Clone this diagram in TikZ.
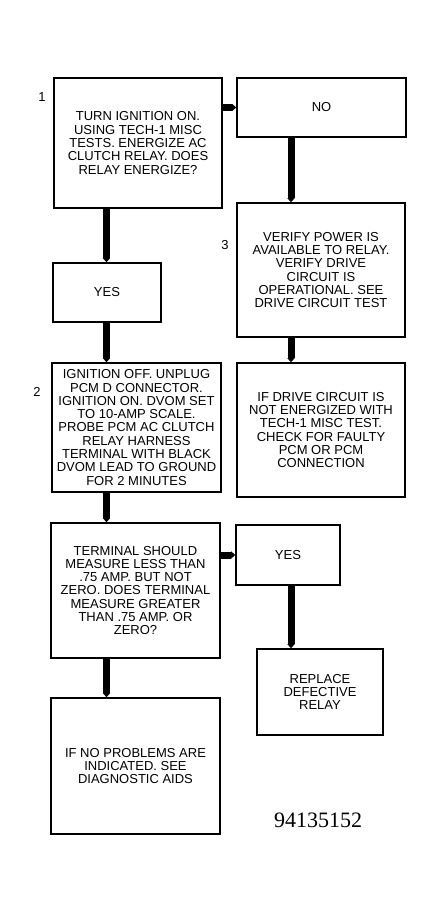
\documentclass[tikz,border=0pt]{standalone}
\usepackage{fontspec}
\setmainfont{Liberation Sans}
\newfontfamily\numfont{Liberation Serif}
\usetikzlibrary{arrows.meta}
\begin{document}
\begin{tikzpicture}[x=1pt,y=-1pt,
  box/.style={draw,line width=1.6pt,rectangle,inner sep=0pt,outer sep=0pt,align=center,
    font=\fontsize{13pt}{13.3pt}\selectfont},
  arr/.style={line width=7pt,-{Triangle[length=4pt,width=7pt]},shorten >=0.8pt},
  lbl/.style={font=\fontsize{13pt}{13.3pt}\selectfont}]
\useasboundingbox (0,0) rectangle (445,911);
\coordinate (rc) at (291,0);
\coordinate (lc) at (106.5,0);
\node[box,minimum width=168pt,minimum height=130pt] (b1) at (138,143)
  {TURN IGNITION ON.\\USING TECH-1 MISC\\TESTS. ENERGIZE AC\\CLUTCH RELAY. DOES\\RELAY ENERGIZE?};
\node[box,minimum width=169pt,minimum height=59pt] (no) at (321.5,107.5) {NO};
\node[box,minimum width=168pt,minimum height=134pt] (b3) at (321,270)
  {VERIFY POWER IS\\AVAILABLE TO RELAY.\\VERIFY DRIVE\\CIRCUIT IS\\OPERATIONAL. SEE\\DRIVE CIRCUIT TEST};
\node[box,minimum width=168pt,minimum height=134pt] (b4) at (321,430)
  {IF DRIVE CIRCUIT IS\\NOT ENERGIZED WITH\\TECH-1 MISC TEST.\\CHECK FOR FAULTY\\PCM OR PCM\\CONNECTION};
\node[box,minimum width=108pt,minimum height=59pt] (yes1) at (107,292.5) {YES};
\node[box,minimum width=169pt,minimum height=129pt] (b2) at (136.5,427.5)
  {IGNITION OFF. UNPLUG\\PCM D CONNECTOR.\\IGNITION ON. DVOM SET\\TO 10-AMP SCALE.\\PROBE PCM AC CLUTCH\\RELAY HARNESS\\TERMINAL WITH BLACK\\DVOM LEAD TO GROUND\\FOR 2 MINUTES};
\node[box,minimum width=169pt,minimum height=135pt] (b5) at (135.5,590.5)
  {TERMINAL SHOULD\\MEASURE LESS THAN\\.75 AMP. BUT NOT\\ZERO. DOES TERMINAL\\MEASURE GREATER\\THAN .75 AMP. OR\\ZERO?};
\node[box,minimum width=104pt,minimum height=60pt] (yes2) at (288,555) {YES};
\node[box,minimum width=126pt,minimum height=86pt] (rep) at (320,692)
  {REPLACE\\DEFECTIVE\\RELAY};
\node[box,minimum width=169pt,minimum height=136pt] (b6) at (135.5,766)
  {IF NO PROBLEMS ARE\\INDICATED. SEE\\DIAGNOSTIC AIDS};
\node[lbl] (n1) at (42,97) {1};
\node[lbl] (n2) at (37,392) {2};
\node[lbl] (n3) at (225,245) {3};
\node[font=\numfont\fontsize{22pt}{24pt}\selectfont,anchor=base] (code) at (318,827) {94135152};
\draw[arr] (b1.east |- no.west) -- (no.west);
\draw[arr] (no.south -| rc) -- (b3.north -| rc);
\draw[arr] (b3.south -| rc) -- (b4.north -| rc);
\draw[arr] (b1.south -| lc) -- (yes1.north -| lc);
\draw[arr] (yes1.south -| lc) -- (b2.north -| lc);
\draw[arr] (b2.south -| lc) -- (b5.north -| lc);
\draw[arr] (b5.south -| lc) -- (b6.north -| lc);
\draw[arr] (b5.east |- yes2.west) -- (yes2.west);
\draw[arr] (yes2.south -| rc) -- (rep.north -| rc);
\end{tikzpicture}
\end{document}
